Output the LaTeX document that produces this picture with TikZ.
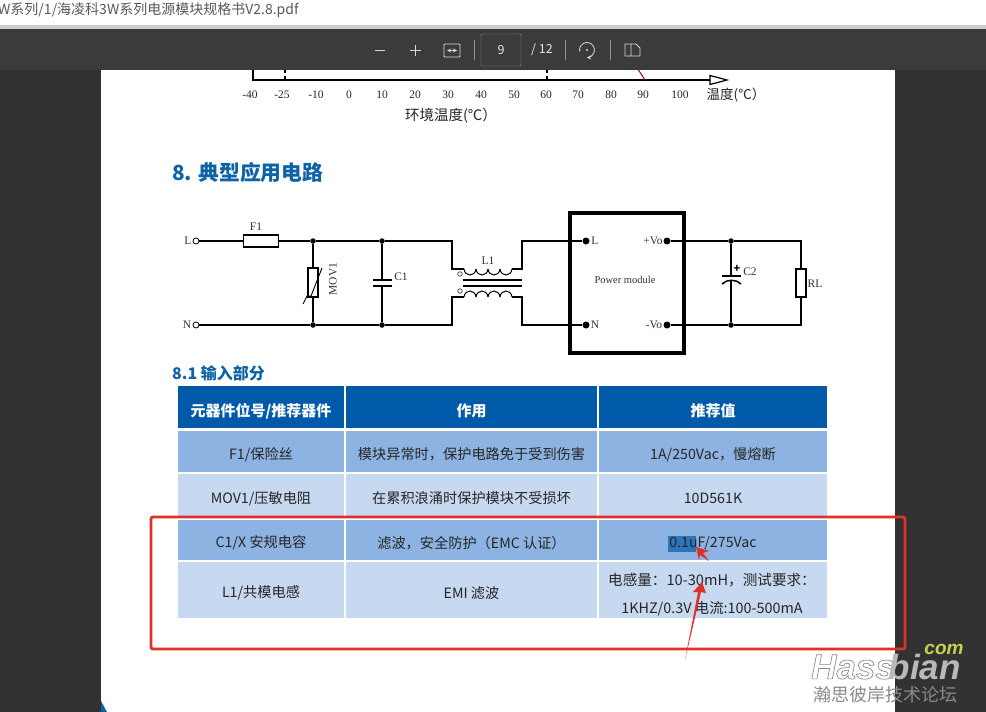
\documentclass[tikz,border=0pt]{standalone}
\usepackage{fontspec}
\setmainfont{Noto Sans CJK SC}
\newfontfamily\circfont{Liberation Serif}
\newfontfamily\markfont{Liberation Sans}
\definecolor{barcol}{HTML}{3B3B3B}
\definecolor{sidecol}{HTML}{323232}
\definecolor{headcol}{HTML}{0059A9}
\definecolor{rowa}{HTML}{8DB3E2}
\definecolor{rowb}{HTML}{C6D9F0}
\definecolor{titlecol}{HTML}{0F62A6}
\definecolor{redcol}{HTML}{E0302A}
\definecolor{markcol}{HTML}{8A8A8A}
\definecolor{comcol}{HTML}{C8D050}
\newcommand{\fs}[1]{\fontsize{#1}{#1}\selectfont}
\newcommand{\ct}[1]{\raisebox{-3pt}[\height][\depth]{#1}}
\newcommand{\hct}[1]{\raisebox{-4pt}[\height][\depth]{#1}}
\tikzset{
    wire/.style={line width=1.5pt, line join=miter},
    term/.style={circle, fill=black, inner sep=0pt, minimum size=7pt},
    dot/.style={circle, fill=black, inner sep=0pt, minimum size=5.5pt},
    open/.style={circle, draw, fill=white, inner sep=0pt, minimum size=6pt, line width=.8pt},
    part/.style={draw, fill=white, line width=1.5pt, inner sep=0pt},
    lbl/.style={font=\circfont\fs{11.5}, inner sep=0pt, text=black!80},
    tick/.style={font=\circfont\fs{11.5}, inner sep=0pt, text=black!85},
    cell/.style={inner sep=0pt, minimum width=#1, font=\fs{14.2}, text=black!85, align=center},
    cell/.default=166pt,
    headcell/.style={cell=#1, fill=headcol, minimum height=42pt, text=white, font=\bfseries\fs{15}},
    tool/.style={font=\fs{12.5}, inner sep=0pt, text=white!90!black},
    toolline/.style={draw=white!85!black, line width=1pt}
}
\begin{document}
\begin{tikzpicture}[x=1pt, y=-1pt]
        \useasboundingbox (0,0) rectangle (986,712);
        \clip (0,0) rectangle (986,712);
        % window
        \fill[sidecol] (0,0) rectangle (986,712);
        \fill[white] (101,70) rectangle (895,712);
        \fill[titlecol] (101,701) -- (107,712) -- (101,712) -- cycle;
        \fill[white] (0,0) rectangle (986,25);
        \fill[black!20] (0,25) rectangle (986,29);
        \fill[barcol] (0,29) rectangle (986,70);
        \node (path) [anchor=west, inner sep=0pt, font=\fs{14}, text=black!65] at (-2,10.5) {W系列/1/海凌科3W系列电源模块规格书V2.8.pdf};
        \node (page) [draw=white!45!barcol, rounded corners=1pt, minimum width=40pt, minimum height=32pt, inner sep=0pt, tool] at (501,50) {9};
        \node (total) [tool] at (542,50) {/ 12};
        \draw[toolline] (375,50) -- (385,50);
        \draw[toolline] (410,50) -- (421,50) (415.5,44.5) -- (415.5,55.5);
        \draw[toolline, rounded corners=1pt, line width=.8pt] (444,44) rectangle (460,57);
        \draw[toolline, line width=.8pt, <->, >=stealth] (447,50.5) -- (457,50.5);
        \draw[white!45!barcol] (474,40) -- (474,60) (565,40) -- (565,60) (610,40) -- (610,60);
        \draw[toolline, line width=.8pt, ->, >=stealth] (579.6,51.3) arc (170:450:7.5);
        \fill[white!85!black] (587,50) circle (1.2);
        \draw[toolline, line width=.8pt] (625,44) rectangle (631,56) (631,44) -- (636,44) -- (640,48) -- (640,56) -- (631,56);
        % axis
        \coordinate (ax0) at (253,70);
        \coordinate (ax1) at (253,80);
        \coordinate (ax2) at (710,80);
        \draw[line width=1.2pt] (ax0) -- (ax1) -- (ax2);
        \draw[line width=1.2pt, fill=white] (710,75.5) -- (727,80) -- (710,84.5) -- cycle;
        \draw[line width=1.2pt, dashed, dash pattern=on 3pt off 2.5pt] (285,70) -- (285,80) (547,70) -- (547,80);
        \draw[red!70!black, line width=1pt] (638.5,70) -- (645,80);
        \node (t0) [tick] at (250,95) {-40};
        \node (t1) [tick] at (282,95) {-25};
        \node (t2) [tick] at (316,95) {-10};
        \node (t3) [tick] at (349,95) {0};
        \node (t4) [tick] at (382,95) {10};
        \node (t5) [tick] at (415,95) {20};
        \node (t6) [tick] at (448,95) {30};
        \node (t7) [tick] at (481,95) {40};
        \node (t8) [tick] at (514,95) {50};
        \node (t9) [tick] at (546,95) {60};
        \node (t10) [tick] at (578,95) {70};
        \node (t11) [tick] at (611,95) {80};
        \node (t12) [tick] at (643,95) {90};
        \node (t13) [tick] at (680,95) {100};
        \node (t14) [tick, font=\fs{13.5}] at (736,95) {温度(℃）};
        \node (axname) [tick, font=\fs{14.5}] at (451,116) {环境温度(℃）};
        % headings
        \node (title) [anchor=west, inner sep=0pt, font=\bfseries\fs{20.8}, text=titlecol] at (172,173) {8. 典型应用电路};
        \node (subtitle) [anchor=west, inner sep=0pt, font=\bfseries\fs{16}, text=titlecol] at (172,373.5) {8.1 输入部分};
        % circuit
        \node (pL) [open] at (196,241) {};
        \node (pN) [open] at (196,325) {};
        \node (lL) [lbl] at (188,241) {L};
        \node (lN) [lbl] at (187,325) {N};
        \node (f1) [part, minimum width=35pt, minimum height=12pt] at (261,241) {};
        \node (lf1) [lbl] at (256,227) {F1};
        \node (j1) [dot] at (313,241) {};
        \node (j2) [dot] at (382,241) {};
        \node (j3) [dot] at (313,325) {};
        \node (j4) [dot] at (382,325) {};
        \node (mov) [part, minimum width=10pt, minimum height=29pt] at (313,282.5) {};
        \node (lmov) [lbl, rotate=90] at (333,279) {MOV1};
        \coordinate (c1a) at (382,280);
        \coordinate (c1b) at (382,286);
        \node (lc1) [lbl] at (401,277) {C1};
        \coordinate (a1) at (452,241);
        \coordinate (a2) at (452,269);
        \coordinate (a3) at (464,269);
        \coordinate (a4) at (452,325);
        \coordinate (a5) at (452,297);
        \coordinate (a6) at (464,297);
        \coordinate (b1) at (522,241);
        \coordinate (b2) at (522,269);
        \coordinate (b3) at (512,269);
        \coordinate (b4) at (522,325);
        \coordinate (b5) at (522,297);
        \coordinate (b6) at (512,297);
        \node (o1) [open, minimum size=4.5pt, draw=black!70] at (460,274) {};
        \node (o2) [open, minimum size=4.5pt, draw=black!70] at (460,291) {};
        \node (ll1) [lbl] at (488,261) {L1};
        \node (box) [draw, line width=4pt, minimum width=114pt, minimum height=140pt, inner sep=0pt] at (627,283) {};
        \node (lbox) [lbl, font=\circfont\fs{10.5}] at (625,280) {Power module};
        \node (vL) [term] at (586,241) {};
        \node (vN) [term] at (586,325) {};
        \node (vP) [term] at (667,241) {};
        \node (vM) [term] at (667,325) {};
        \node (tL) [lbl] at (595,241) {L};
        \node (tN) [lbl] at (595,325) {N};
        \node (tP) [lbl] at (653,241) {+Vo};
        \node (tM) [lbl] at (654,325) {-Vo};
        \node (j5) [dot] at (731,241) {};
        \node (j6) [dot] at (731,325) {};
        \coordinate (c2a) at (731,276);
        \coordinate (c2b) at (731,280);
        \node (lc2) [lbl] at (750,272) {C2};
        \node (lplus) [font=\bfseries\fs{11}, inner sep=0pt] at (737,269) {+};
        \coordinate (d1) at (801,241);
        \coordinate (d2) at (801,325);
        \node (rl) [part, minimum width=10pt, minimum height=28pt] at (801,283) {};
        \node (lrl) [lbl] at (815,284) {RL};
        \draw[wire] (pL) -- (f1) -- (j1) -- (j2) -- (a1) -- (a2) -- (a3);
        \draw[wire] (pN) -- (j3) -- (j4) -- (a4) -- (a5) -- (a6);
        \draw[wire] (j1) -- (mov) -- (j3);
        \draw[wire] (j2) -- (c1a) (c1b) -- (j4);
        \draw[wire] (373,280) -- (392,280) (373,286) -- (392,286);
        \draw[wire, line width=.9pt] (303,304) -- (307,296) -- (311,296) -- (322,268);
        \foreach \i in {0,1,2,3} {
                \draw[wire, line width=1pt] (464+12*\i,269) .. controls (465+12*\i,277) and (475+12*\i,277) .. (476+12*\i,269);
                \draw[wire, line width=1pt] (464+12*\i,297) .. controls (465+12*\i,289) and (475+12*\i,289) .. (476+12*\i,297);
        }
        \draw[wire] (463,280) -- (522,280) (463,286) -- (522,286);
        \draw[wire] (b3) -- (b2) -- (b1) -- (vL);
        \draw[wire] (b6) -- (b5) -- (b4) -- (vN);
        \draw[wire] (vP) -- (j5) -- (d1) -- (rl) -- (d2) -- (j6) -- (vM);
        \draw[wire] (j5) -- (c2a) (c2b) -- (j6);
        \draw[wire] (722,276) -- (741,276);
        \draw[wire] (722,284) .. controls (727,279) and (736,279) .. (741,284);
        % table
        \node (h1) [headcell=166pt] at (261,407) {\hct{元器件位号/推荐器件}};
        \node (h2) [headcell=251pt] at (471.5,407) {\hct{作用}};
        \node (h3) [headcell=228pt] at (713,407) {\hct{推荐值}};
        \node (a1c) [cell=166pt, fill=rowa, minimum height=41pt] at (261,451.5) {\ct{F1/保险丝}};
        \node (a2c) [cell=251pt, fill=rowa, minimum height=41pt] at (471.5,451.5) {\ct{模块异常时，保护电路免于受到伤害}};
        \node (a3c) [cell=228pt, fill=rowa, minimum height=41pt] at (713,451.5) {\ct{1A/250Vac，慢熔断}};
        \node (b1c) [cell=166pt, fill=rowb, minimum height=43pt] at (261,495.5) {\ct{MOV1/压敏电阻}};
        \node (b2c) [cell=251pt, fill=rowb, minimum height=43pt] at (471.5,495.5) {\ct{在累积浪涌时保护模块不受损坏}};
        \node (b3c) [cell=228pt, fill=rowb, minimum height=43pt] at (713,495.5) {\ct{10D561K}};
        \node (c1c) [cell=166pt, fill=rowa, minimum height=40pt] at (261,540) {\ct{C1/X 安规电容}};
        \node (c2c) [cell=251pt, fill=rowa, minimum height=40pt] at (471.5,540) {\ct{滤波，安全防护（EMC 认证）}};
        \node (c3c) [cell=228pt, fill=rowa, minimum height=40pt] at (713,540) {};
        \fill[headcol!70!rowa] (668,536) rectangle (696,552);
        \node (c3t) [inner sep=0pt, font=\fs{14.2}, text=black!85] at (713,543) {0.1uF/275Vac};
        \node (d1c) [cell=166pt, fill=rowb, minimum height=56pt] at (261,590) {\ct{L1/共模电感}};
        \node (d2c) [cell=251pt, fill=rowb, minimum height=56pt] at (471.5,590) {\ct{EMI 滤波}};
        \node (d3c) [cell=228pt, fill=rowb, minimum height=56pt] at (713,590) {};
        \node (d3a) [inner sep=0pt, font=\fs{14.6}, text=black!85] at (712,580) {电感量：10-30mH，测试要求：};
        \node (d3b) [inner sep=0pt, font=\fs{14.4}, text=black!85] at (712,609) {1KHZ/0.3V 电流:100-500mA};
        % markup
        \draw[redcol, line width=2.8pt, rounded corners=2pt] (151,517) rectangle (905,649);
        \fill[redcol] (685,660) -- (698,592) -- (693,592) -- (702,582) -- (706,593) -- (701,592) -- cycle;
        \fill[redcol] (696,547) -- (709,551) -- (703,553) -- (709,561) -- (700,555) -- (699,560) -- cycle;
        % watermark
        \node (com) [inner sep=0pt, font=\markfont\bfseries\itshape\fs{19}, text=comcol] at (944,649) {com};
        \node (hass) [anchor=west, inner sep=0pt, font=\markfont\bfseries\itshape\fs{35}] at (811,667) {\special{pdf:code 2 Tr .7 w .55 G 1 g}Hass\special{pdf:code 0 Tr}};
        \node (bian) [anchor=east, inner sep=0pt, font=\markfont\bfseries\itshape\fs{35}, text=markcol!60!white] at (961,667) {bian};
        \node (cn) [inner sep=0pt, font=\fs{18}, text=markcol] at (885.5,695) {瀚思彼岸技术论坛};
\end{tikzpicture}
\end{document}
